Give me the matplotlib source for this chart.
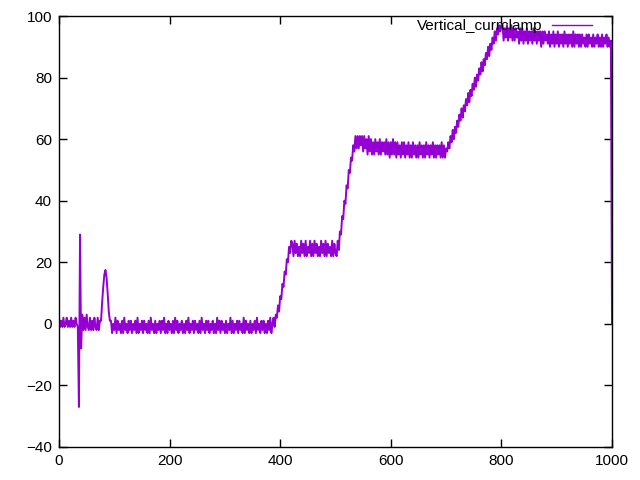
import matplotlib
matplotlib.use("Agg")
import matplotlib.pyplot as plt
import numpy as np

# ---- data ----
seg_start = [2, -1, 1, -1, 2, -1, 0, 2, -1, 1, -1, 2, -1, 1, -1, 2, 0, -1]           # x 0..34
seg_spike = [-27, 29, -8]                                                             # x 36..40
seg_pre = [3, -2, 2, -2, 3, -1, -2, 2, -2, 1, -2, 2, -1, -2, 2, -2, 1]                # x 42..74
seg_bump = [1, 7, 12, 16, 17.5, 15, 10, 4, 1]                                         # x 76..92
seg_base = [1, -3, 0, -2, 2, -3, 1, -2, 0, -3,
            1, -3, 2, -2, 0, -3, 1, -2, 1, -3,
            0, -2, 1, -3, 2, -3, 0, -2, 1, -3,
            1, -2, 0, -3, 1, -3, 2, -2, 0, -3,
            1, -3, 0, -2, 1, -3, 1, -2, 2, -3,
            0, -3, 1, -2, 0, -3, 1, -3, 2, -2,
            1, -3, 0, -2, 1, -3, 0, -3, 1, -2,
            2, -3, 0, -2, 1, -3, 1, -2, 0, -3,
            1, -3, 2, -2, 0, -3, 1, -2, 1, -3,
            0, -2, 1, -3, 0, -3, 2, -2, 1, -3,
            1, -2, 0, -3, 1, -3, 0, -2, 2, -3,
            1, -3, 0, -2, 1, -3, 1, -2, 0, -3,
            2, -3, 1, -2, 0, -3, 1, -3, 0, -2,
            1, -3, 2, -2, 0, -3, 1, -2, 1, -3,
            0, -3, 1, -2, 2, -3]                                                      # x 94..384
seg_ramp1 = [0, 2, -1, 3, 2, 6, 4, 9, 8, 13, 12, 17, 16, 21, 20, 25, 23, 27]          # x 386..420
seg_plat1 = [26, 22, 27, 23, 26, 22, 25, 22, 27, 23,
             26, 22, 27, 22, 25, 23, 27, 22, 26, 22,
             27, 23, 26, 22, 25, 22, 27, 23, 26, 22,
             27, 22, 26, 23, 25, 22, 27, 22, 26, 23]                                  # x 422..500
seg_ramp2 = [22, 27, 24, 30, 29, 35, 34, 40, 39, 45, 44, 50, 49, 54, 53, 58,
             56, 61, 57, 61, 57, 61, 58]                                              # x 502..546
seg_plat2 = [61, 56, 61, 57, 60, 55, 61, 56, 60, 55,
             59, 55, 60, 56, 59, 55, 60, 55, 59, 56,
             59, 55, 60, 55, 59, 54, 59, 55, 60, 55,
             59, 54, 59, 55, 58, 54, 59, 55, 59, 54,
             58, 55, 59, 54, 58, 54, 59, 55, 58, 54,
             58, 54, 59, 55, 58, 54, 58, 54, 59, 55,
             58, 54, 58, 55, 59, 54, 58, 54, 58, 55,
             58, 54, 59, 54, 58, 54, 57]                                              # x 548..700
seg_ramp3 = [56, 59, 57, 61, 59, 63, 60, 64, 62, 66,
             64, 68, 66, 70, 67, 71, 69, 73, 71, 75,
             72, 76, 74, 78, 76, 80, 77, 81, 79, 83,
             81, 85, 82, 86, 84, 88, 86, 90, 87, 91,
             89, 93, 91, 95, 92, 96, 94, 97, 95, 97]                                  # x 702..800
seg_plat3 = [97, 92, 96, 93, 97, 92, 96, 93, 97, 92,
             96, 92, 96, 93, 95, 91, 96, 92, 96, 91,
             95, 92, 96, 91, 95, 92, 95, 91, 96, 92,
             95, 91, 95, 92, 95, 90, 95, 91, 95, 92,
             94, 91, 95, 90, 94, 91, 95, 90, 94, 91,
             95, 90, 94, 91, 94, 90, 95, 91, 94, 90,
             94, 91, 94, 90, 95, 90, 94, 91, 94, 90,
             94, 90, 94, 91, 93, 90, 94, 90, 94, 91,
             93, 90, 94, 90, 93, 91, 94, 90, 93, 90,
             94, 90, 93, 91, 94, 90, 93, 90, 92]                                      # x 802..998
seg_end = [0]                                                                         # x 1000

y_values = (seg_start + seg_spike + seg_pre + seg_bump + seg_base + seg_ramp1 +
            seg_plat1 + seg_ramp2 + seg_plat2 + seg_ramp3 + seg_plat3 + seg_end)
x_step = 2
x_values = np.arange(len(y_values)) * x_step

x_ticks = [0, 200, 400, 600, 800, 1000]
y_ticks = [-40, -20, 0, 20, 40, 60, 80, 100]
series_label = "Vertical_currclamp"

# ---- plot ----
plt.rcParams['font.family'] = ['Liberation Sans', 'DejaVu Sans']
fig = plt.figure(figsize=(6.4, 4.8), dpi=100)
ax = fig.add_axes([59/640, 1-447/480, (612-59)/640, (447-16)/480])
ax.plot(x_values, y_values, color='#9400D3', linewidth=1.4, label=series_label)
ax.set_xlim(0, 1000)
ax.set_ylim(-40, 100)
ax.set_xticks(x_ticks)
ax.set_yticks(y_ticks)
ax.tick_params(direction='in', top=True, right=True, length=6, width=1,
               labelsize=11, pad=5, colors='black')
for s in ax.spines.values():
    s.set_linewidth(1)
    s.set_color('black')
leg = ax.legend(loc='upper right', bbox_to_anchor=(0.969, 1.0), frameon=False,
                markerfirst=False, handlelength=2.6, fontsize=11,
                borderaxespad=0, borderpad=0.2, handletextpad=0.65)
for h in leg.get_lines():
    h.set_linewidth(1.0)
fig.savefig("out.png", dpi=100)
